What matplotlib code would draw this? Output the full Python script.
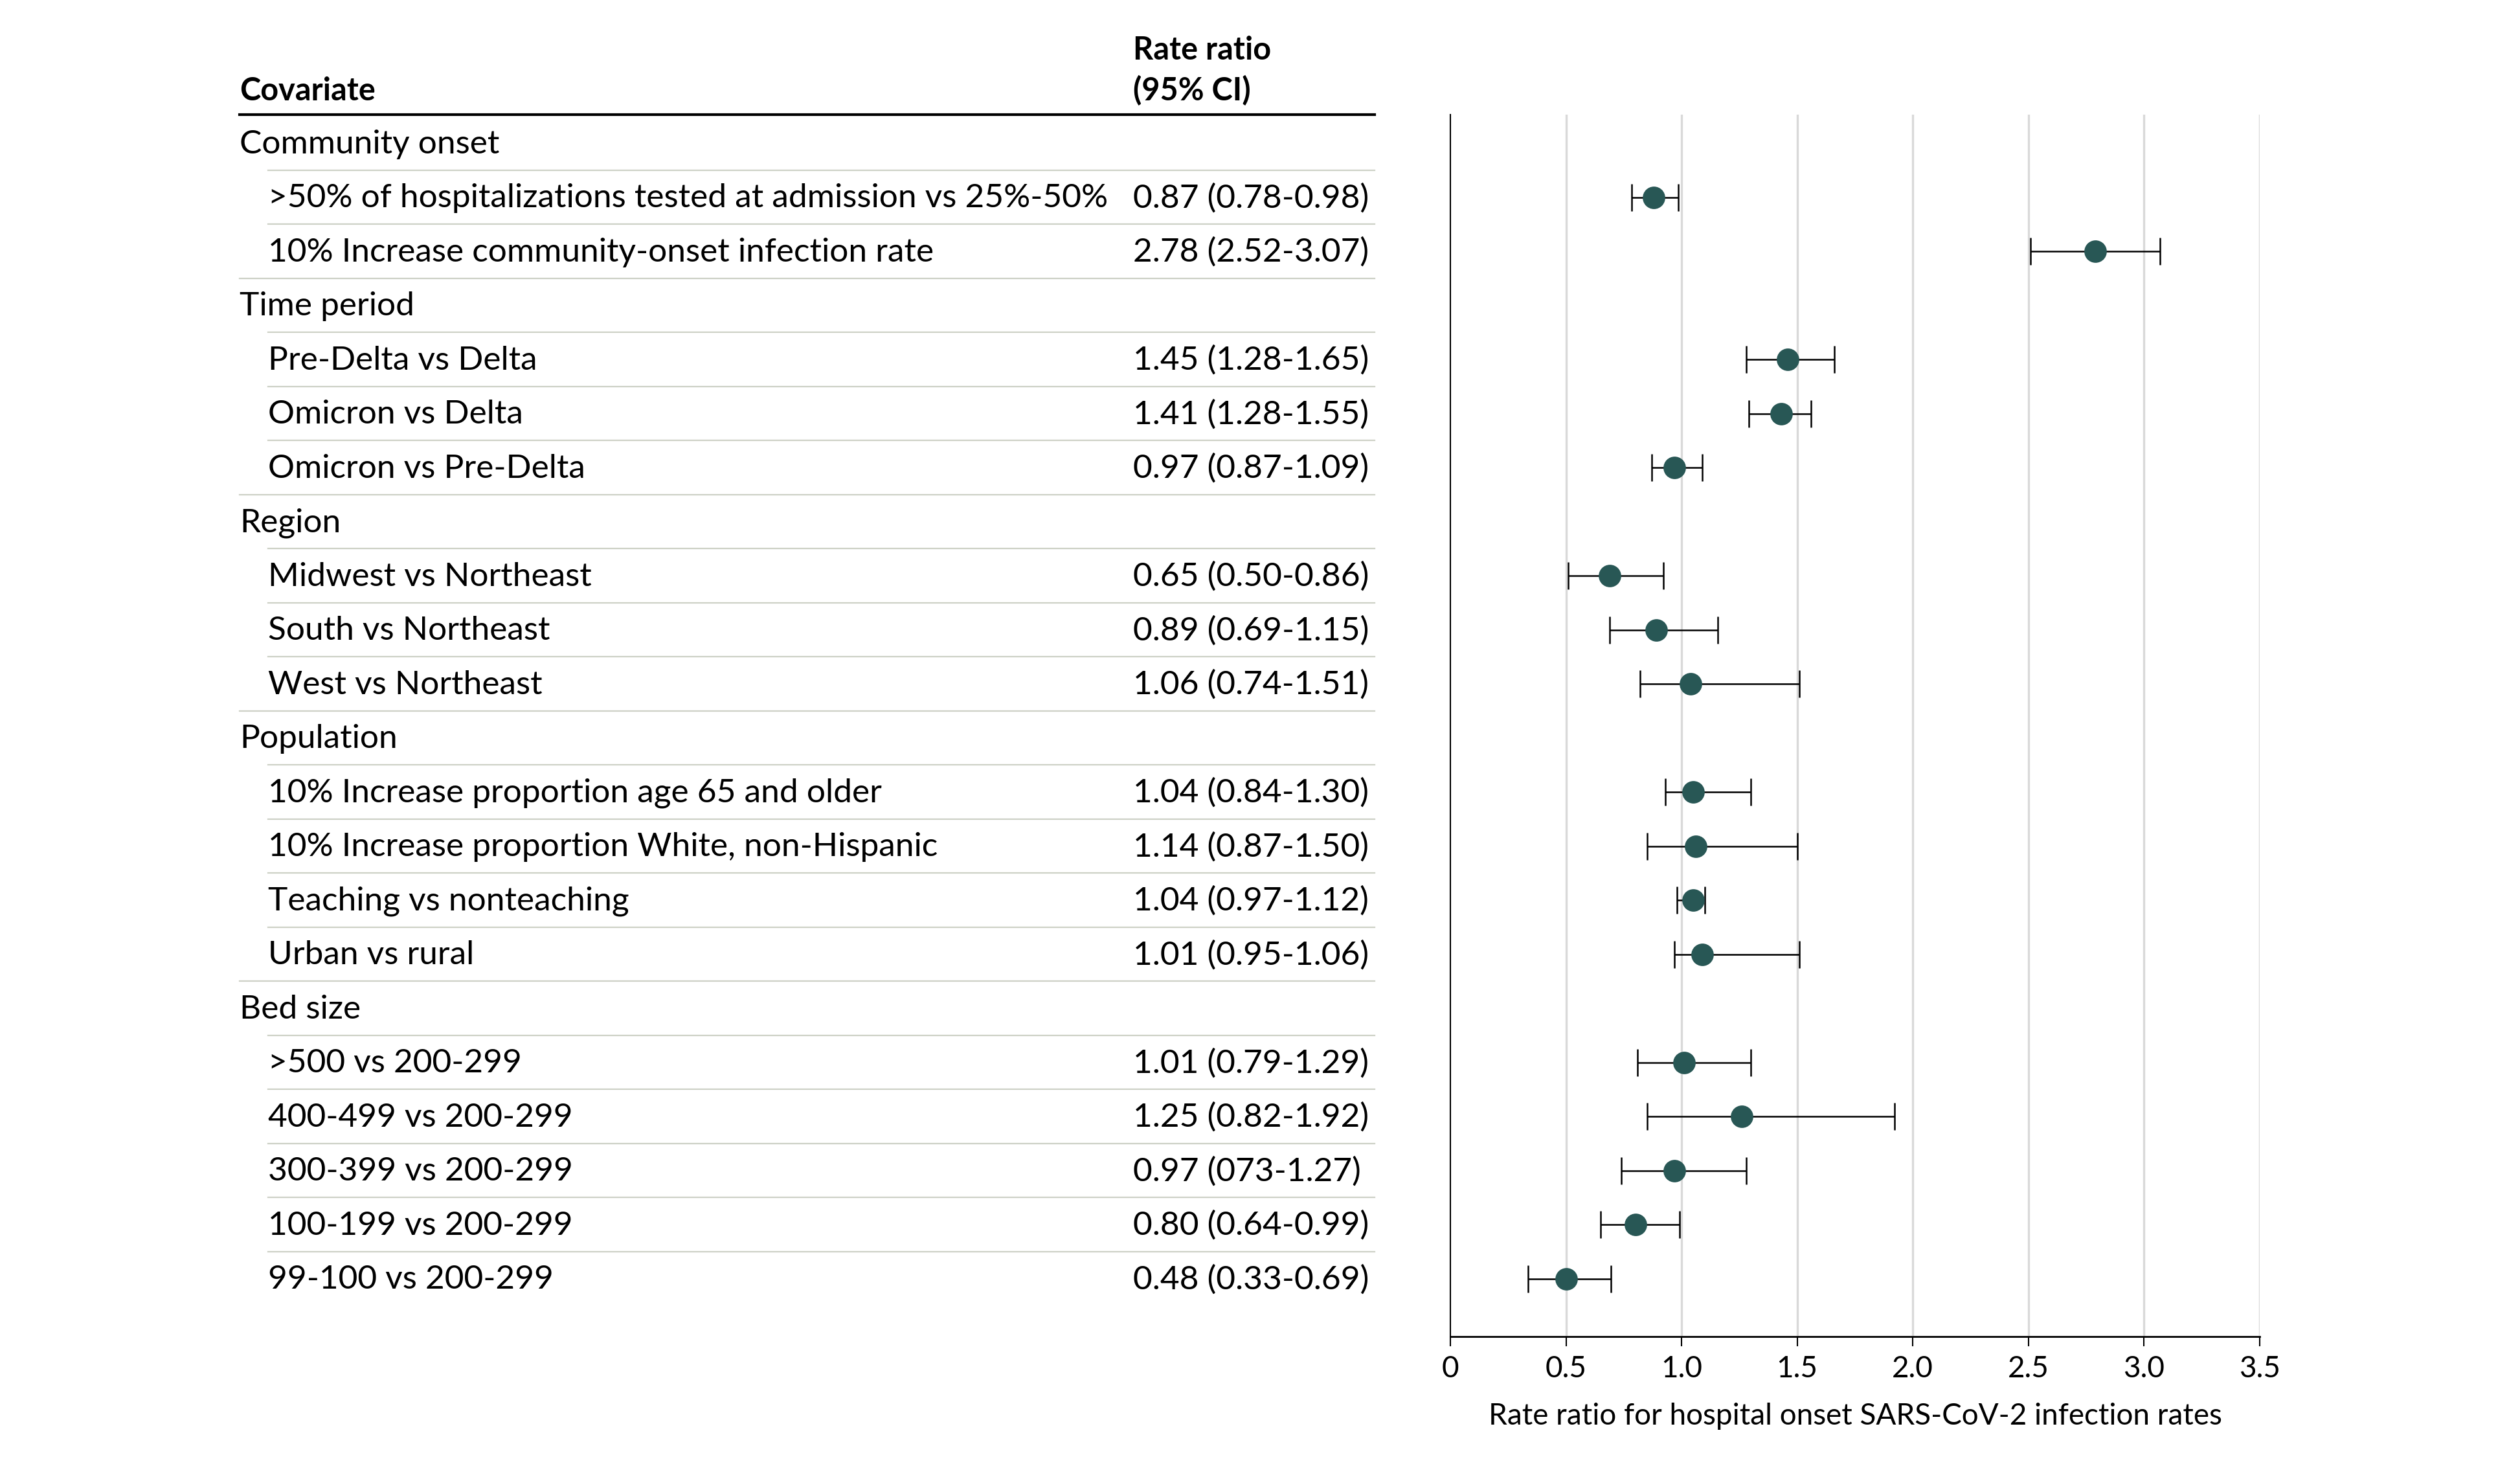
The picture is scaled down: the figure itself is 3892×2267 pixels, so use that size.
import matplotlib
matplotlib.use("Agg")
import matplotlib.pyplot as plt
from matplotlib.lines import Line2D
from matplotlib.transforms import blended_transform_factory
import numpy as np

# データ
groups = ["Community onset", "Time period", "Region", "Population", "Bed size"]
group_sizes = [2, 3, 3, 4, 5]
labels = [
    ">50% of hospitalizations tested at admission vs 25%-50%",
    "10% Increase community-onset infection rate",
    "Pre-Delta vs Delta",
    "Omicron vs Delta",
    "Omicron vs Pre-Delta",
    "Midwest vs Northeast",
    "South vs Northeast",
    "West vs Northeast",
    "10% Increase proportion age 65 and older",
    "10% Increase proportion White, non-Hispanic",
    "Teaching vs nonteaching",
    "Urban vs rural",
    ">500 vs 200-299",
    "400-499 vs 200-299",
    "300-399 vs 200-299",
    "100-199 vs 200-299",
    "99-100 vs 200-299",
]
ratio_text = [
    "0.87 (0.78-0.98)", "2.78 (2.52-3.07)",
    "1.45 (1.28-1.65)", "1.41 (1.28-1.55)", "0.97 (0.87-1.09)",
    "0.65 (0.50-0.86)", "0.89 (0.69-1.15)", "1.06 (0.74-1.51)",
    "1.04 (0.84-1.30)", "1.14 (0.87-1.50)", "1.04 (0.97-1.12)", "1.01 (0.95-1.06)",
    "1.01 (0.79-1.29)", "1.25 (0.82-1.92)", "0.97 (073-1.27)", "0.80 (0.64-0.99)",
    "0.48 (0.33-0.69)",
]
# 図中のマーカー位置
est = [0.88, 2.79, 1.46, 1.43, 0.97, 0.69, 0.89, 1.04, 1.05, 1.06, 1.05, 1.09,
       1.01, 1.26, 0.97, 0.80, 0.50]
lo = [0.785, 2.51, 1.28, 1.29, 0.87, 0.51, 0.69, 0.82, 0.93, 0.85, 0.98, 0.97,
      0.81, 0.85, 0.74, 0.65, 0.335]
hi = [0.985, 3.07, 1.66, 1.56, 1.09, 0.92, 1.155, 1.51, 1.30, 1.50, 1.10, 1.51,
      1.30, 1.92, 1.28, 0.99, 0.695]
xticks = [0, 0.5, 1.0, 1.5, 2.0, 2.5, 3.0, 3.5]
xtick_labels = ["0", "0.5", "1.0", "1.5", "2.0", "2.5", "3.0", "3.5"]

plt.rcParams['font.family'] = ['Lato', 'DejaVu Sans']

W, H = 3892, 2267
fig = plt.figure(figsize=(W / 100, H / 100), dpi=100)

# 行の並び (見出し行 + 項目行)
rows = []
k = 0
for g, n in zip(groups, group_sizes):
    rows.append(("group", g, None))
    for _ in range(n):
        rows.append(("item", labels[k], k))
        k += 1
n_rows = len(rows)

# 森林プロット用の軸
row0_px, step_px = 221, 83.5
top_px, bot_px = 177, 2064
x0_px, x1_px = 2240, 3490
ax = fig.add_axes([x0_px / W, (H - bot_px) / H, (x1_px - x0_px) / W, (bot_px - top_px) / H])
ax.set_xlim(0, 3.5)
ax.set_ylim((bot_px - row0_px) / step_px, (top_px - row0_px) / step_px)

item_y = [i for i, r in enumerate(rows) if r[0] == "item"]

for x in xticks[1:]:
    ax.axvline(x, color="#d9d9d9", lw=2.4, zorder=0)

est_a, lo_a, hi_a = np.array(est), np.array(lo), np.array(hi)
ax.errorbar(est_a, item_y, xerr=[est_a - lo_a, hi_a - est_a], fmt="none",
            ecolor="black", elinewidth=1.8, capsize=15, capthick=1.8, zorder=2)
ax.plot(est_a, item_y, "o", color="#285755", ms=25, mec="none", zorder=3)

ax.set_yticks([])
for s in ["top", "right"]:
    ax.spines[s].set_visible(False)
ax.spines["left"].set_linewidth(1.5)
ax.spines["bottom"].set_linewidth(2)
ax.set_xticks(xticks)
ax.set_xticklabels(xtick_labels)
ax.tick_params(axis="x", direction="out", length=11, width=1.5, pad=10, labelsize=33)
ax.set_xlabel("Rate ratio for hospital onset SARS-CoV-2 infection rates", fontsize=33, labelpad=22)

# 表の部分
trans = blended_transform_factory(fig.transFigure, ax.transData)
x_group, x_item, x_ratio, x_end = 370 / W, 414 / W, 1750 / W, 2123 / W
base_off = 0.19
fs = 37
fs_head = 35

ax.text(x_group, (155 - row0_px) / step_px, "Covariate", transform=trans, fontsize=fs_head,
        fontweight="bold", va="baseline", ha="left", clip_on=False)
ax.text(x_ratio, (92 - row0_px) / step_px, "Rate ratio", transform=trans, fontsize=fs_head,
        fontweight="bold", va="baseline", ha="left", clip_on=False)
ax.text(x_ratio, (155 - row0_px) / step_px, "(95% CI)", transform=trans, fontsize=fs_head,
        fontweight="bold", va="baseline", ha="left", clip_on=False)
fig.add_artist(Line2D([x_group, x_end], [(top_px - row0_px) / step_px] * 2, transform=trans,
                      color="black", lw=3))

for i, (kind, text, idx) in enumerate(rows):
    if kind == "group":
        ax.text(x_group, i + base_off, text, transform=trans, fontsize=fs,
                va="baseline", ha="left", clip_on=False)
    else:
        ax.text(x_item, i + base_off, text, transform=trans, fontsize=fs,
                va="baseline", ha="left", clip_on=False)
        ax.text(x_ratio, i + base_off, ratio_text[idx], transform=trans, fontsize=fs,
                va="baseline", ha="left", clip_on=False)
    # 区切り線
    if i < n_rows - 1:
        start = x_group if rows[i + 1][0] == "group" else x_item
        fig.add_artist(Line2D([start, x_end], [i + 0.5, i + 0.5], transform=trans,
                              color="#cdd1c6", lw=1.6))

fig.savefig("out.png", dpi=100, facecolor="white")
